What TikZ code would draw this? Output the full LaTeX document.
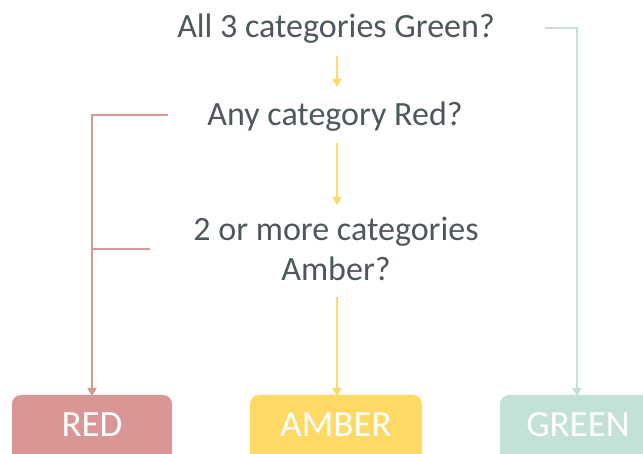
\documentclass[tikz,border=0pt]{standalone}
\usepackage{fontspec}
\setmainfont{Carlito}
\usetikzlibrary{arrows.meta}
\definecolor{cred}{HTML}{D99694}
\definecolor{camber}{HTML}{FFD966}
\definecolor{cgreen}{HTML}{C4E1D6}
\definecolor{ctext}{HTML}{4D585C}
\begin{document}
\begin{tikzpicture}[x=1pt,y=-1pt,
  q/.style={text=ctext,font=\fontsize{34}{40}\selectfont,align=center,inner sep=0pt,anchor=base},
  outbox/.style={text=white,font=\fontsize{37}{40}\selectfont,inner sep=0pt,anchor=base},
  conn/.style={line width=2.2pt,-{Triangle[length=8pt,width=9pt]}}]
\useasboundingbox (0,0) rectangle (643,454);
\begin{scope}
\clip (0,0) rectangle (643,454);
\fill[cred,rounded corners=9pt] (12,395) rectangle (172,470);
\fill[camber,rounded corners=9pt] (250,395) rectangle (422,470);
\fill[cgreen,rounded corners=9pt] (500,395) rectangle (660,470);
\end{scope}
\node[outbox] (red) at (92,436) {RED};
\node[outbox] (amber) at (336,436) {AMBER};
\node[outbox] (green) at (578,436) {GREEN};
\coordinate (redtop) at (92,396);
\coordinate (ambertop) at (337,396);
\coordinate (greentop) at (577,396);

\node[q] (q1) at (336,38) {All 3 categories Green?};
\node[q] (q2) at (335,126) {Any category Red?};
\node[q] (q3) at (336,281) {2 or more categories\\Amber?};

\coordinate (g0) at (545,28);
\coordinate (r1) at (168,115);
\coordinate (r2) at (150,249);
\coordinate (a1s) at (337,56);
\coordinate (a1e) at (337,87);
\coordinate (a2s) at (337,143);
\coordinate (a2e) at (337,205);
\coordinate (a3s) at (337,297);

\draw[conn,camber] (a1s) -- (a1e);
\draw[conn,camber] (a2s) -- (a2e);
\draw[conn,camber] (a3s) -- (ambertop);
\draw[conn,cgreen] (g0) -| (greentop);
\draw[conn,cred] (r1) -| (redtop);
\draw[line width=2.2pt,cred] (r2) -- (92,249);
\end{tikzpicture}
\end{document}
